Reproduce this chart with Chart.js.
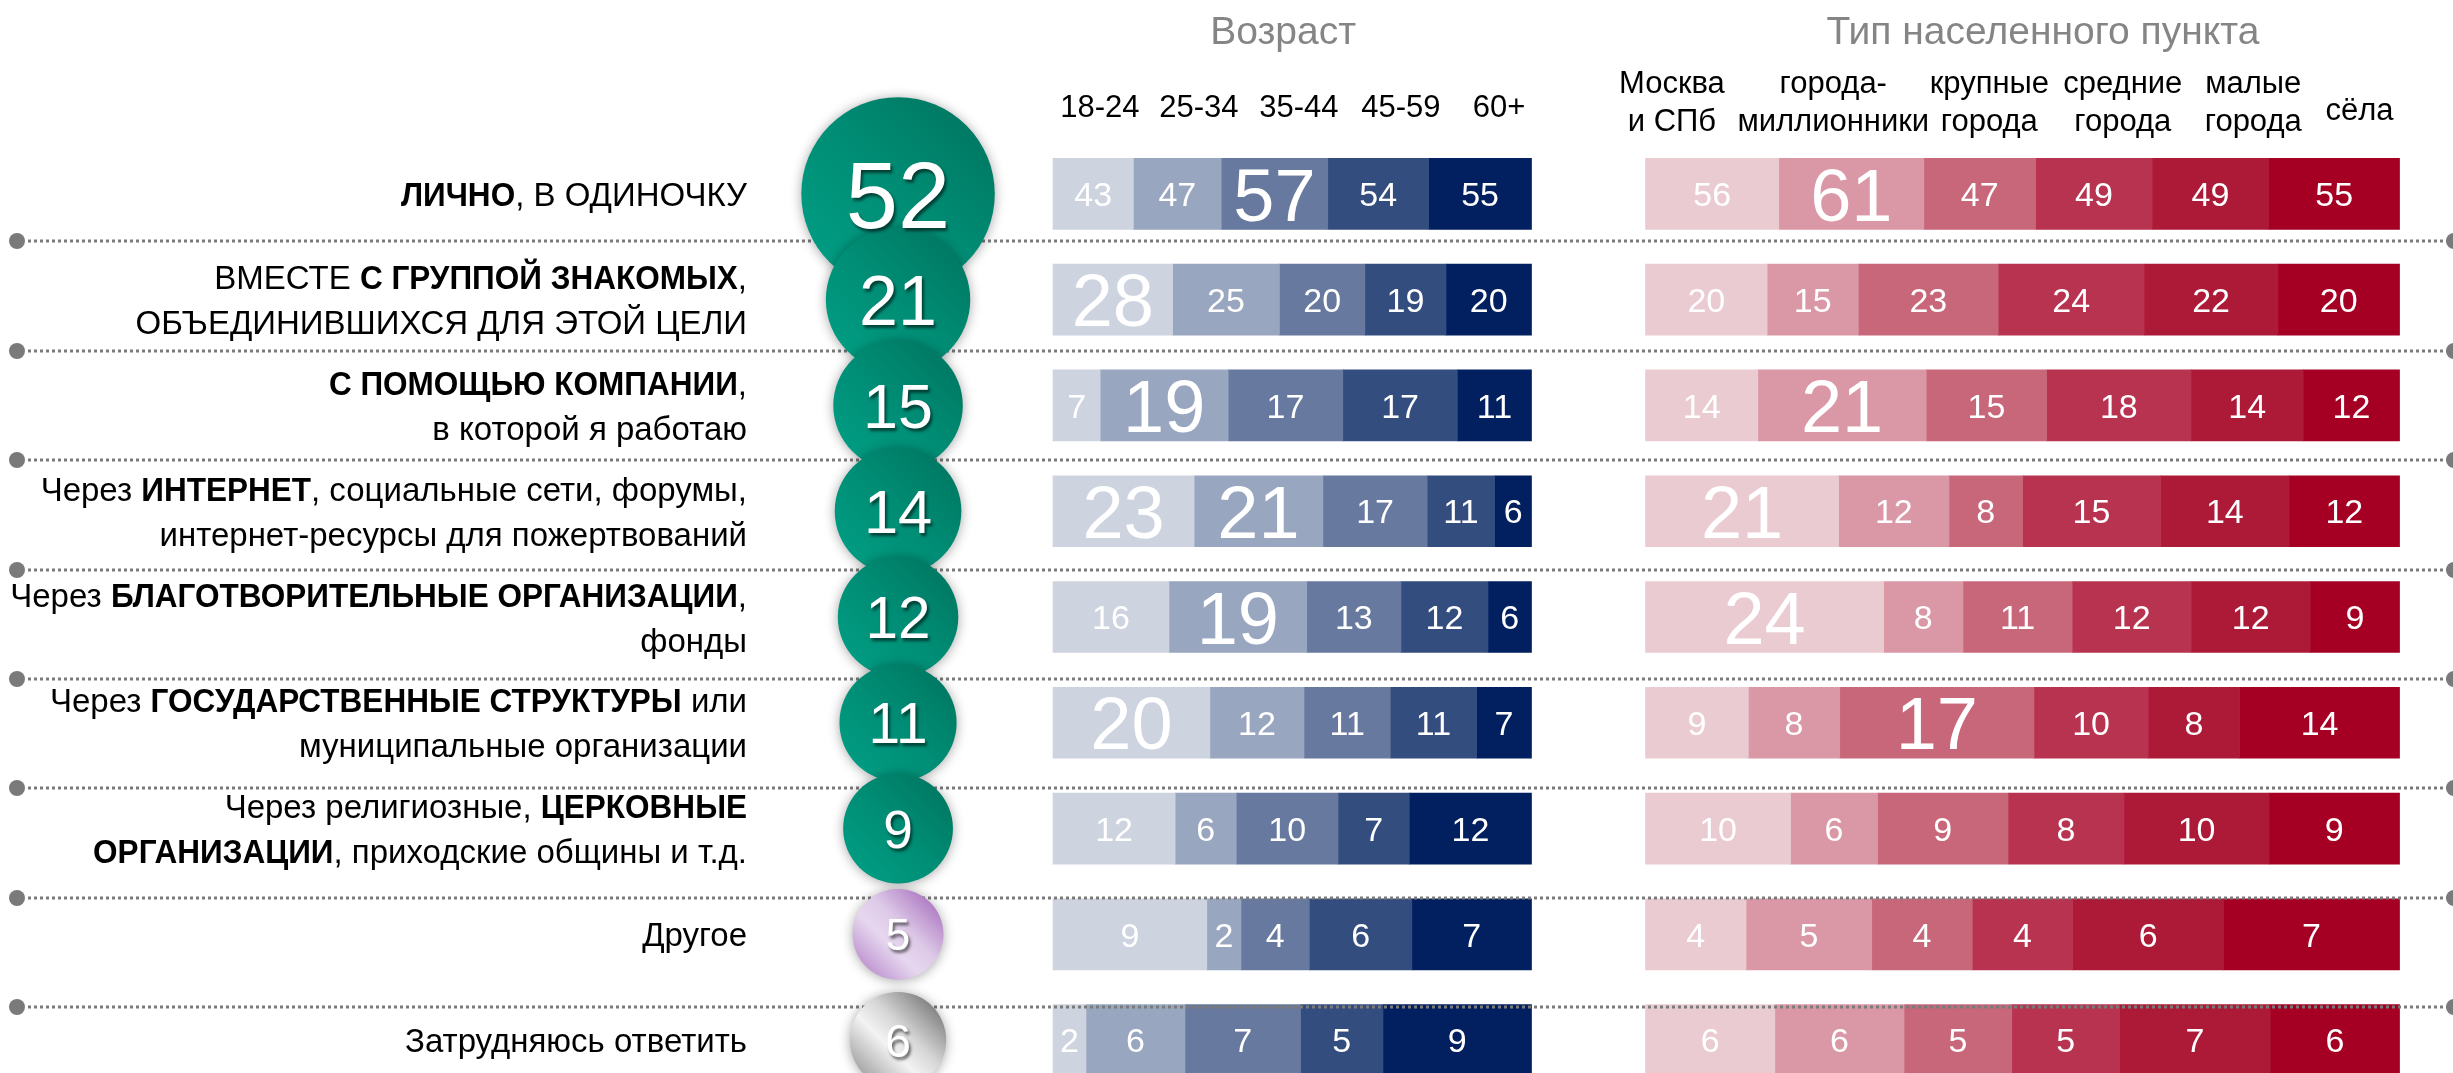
<!DOCTYPE html>
<html lang="ru">
<head>
<meta charset="utf-8">
<title>Как вы помогаете</title>
<script src="https://cdn.jsdelivr.net/npm/chart.js@4.4.1/dist/chart.umd.min.js"></script>
<style>
  html, body { margin: 0; padding: 0; background: #fff; overflow: hidden; }
  #wrap { position: relative; width: 2453px; height: 1073px; overflow: hidden; }
  canvas { display: block; }
</style>
</head>
<body>
<div id="wrap"><canvas id="chart" width="2453" height="1100"></canvas></div>
<script>
// *...* = жирный, | = перенос строки
const categories = [
    '*ЛИЧНО*, В ОДИНОЧКУ',
    'ВМЕСТЕ *С ГРУППОЙ ЗНАКОМЫХ*,|ОБЪЕДИНИВШИХСЯ ДЛЯ ЭТОЙ ЦЕЛИ',
    '*С ПОМОЩЬЮ КОМПАНИИ*,|в которой я работаю',
    'Через *ИНТЕРНЕТ*, социальные сети, форумы,|интернет-ресурсы для пожертвований',
    'Через *БЛАГОТВОРИТЕЛЬНЫЕ ОРГАНИЗАЦИИ*,|фонды',
    'Через *ГОСУДАРСТВЕННЫЕ СТРУКТУРЫ* или|муниципальные организации',
    'Через религиозные, *ЦЕРКОВНЫЕ*|*ОРГАНИЗАЦИИ*, приходские общины и т.д.',
    'Другое',
    'Затрудняюсь ответить'
]
const total = [52, 21, 15, 14, 12, 11, 9, 5, 6]

const ageGroups = ['18-24', '25-34', '35-44', '45-59', '60+']
const ageSeries = [
    [43, 28, 7, 23, 16, 20, 12, 9, 2],
    [47, 25, 19, 21, 19, 12, 6, 2, 6],
    [57, 20, 17, 17, 13, 11, 10, 4, 7],
    [54, 19, 17, 11, 12, 11, 7, 6, 5],
    [55, 20, 11, 6, 6, 7, 12, 7, 9]
]
// выделенные (крупные) значения: номера групп по строкам
const ageBig = [[2], [0], [1], [0, 1], [1], [0], [], [], []]

const townGroups = ['Москва|и СПб', 'города-|миллионники', 'крупные|города', 'средние|города', 'малые|города', 'сёла']
const townSeries = [
    [56, 20, 14, 21, 24, 9, 10, 4, 6],
    [61, 15, 21, 12, 8, 8, 6, 5, 6],
    [47, 23, 15, 8, 11, 17, 9, 4, 5],
    [49, 24, 18, 15, 12, 10, 8, 4, 5],
    [49, 22, 14, 14, 12, 8, 10, 6, 7],
    [55, 20, 12, 12, 9, 14, 9, 7, 6]
]
const townBig = [[1], [], [1], [0], [0], [2], [], [], []]

const ageColors = ['#cdd3df', '#99a6c0', '#67799f', '#344d7f', '#02205f']
const townColors = ['#ebcbd2', '#da98a6', '#c8667a', '#b8334f', '#ac1a37', '#a50024']

const FONT = '"Liberation Sans", Arial, sans-serif'
const chartLabels = categories.map(c => c.replace(/\*/g, '').replace('|', ' '))

// доли внутри строки (каждая полоса = 100%)
function shares(series) {
    const sums = categories.map((_, r) => series.reduce((s, col) => s + col[r], 0))
    return series.map(col => col.map((v, r) => v / sums[r] * 100))
}
const ageShares = shares(ageSeries)
const townShares = shares(townSeries)

function barSets(series, part, colors, big, axis, stack, groups) {
    return series.map((col, g) => ({
        type: 'bar',
        label: groups[g],
        data: part[g],
        values: col,
        big: big.map(list => list.includes(g)),
        xAxisID: axis,
        yAxisID: 'y',
        stack: stack,
        grouped: false,
        barThickness: 71,
        borderWidth: 0,
        backgroundColor: colors[g]
    }))
}

const bubbleStops = {
    main: [[0, '#009b81'], [0.5, '#008d75'], [1, '#007a64']],
    other: [[0, '#c29ad3'], [0.35, '#e6d7ef'], [0.6, '#ddc9e7'], [1, '#b281c6']],
    hard: [[0, '#a9a9a9'], [0.38, '#f3f3f3'], [0.62, '#d6d6d6'], [1, '#878787']]
}
const bubbleRadius = v => 27 * Math.pow(v, 0.323)

const bubbleSet = {
    type: 'bubble',
    data: total.map((v, i) => ({x: 0, y: chartLabels[i], r: bubbleRadius(v)})),
    values: total,
    xAxisID: 'xb',
    yAxisID: 'y',
    clip: false,
    borderWidth: 0,
    backgroundColor: (c) => {
        const fallback = '#008c74'
        if (c.type !== 'data') return fallback
        const {xb, y} = c.chart.scales
        if (!xb || !y) return fallback
        const cx = xb.getPixelForValue(0), cy = y.getPixelForValue(c.dataIndex), r = c.raw.r
        if (!isFinite(cx) || !isFinite(cy)) return fallback
        const g = c.chart.ctx.createLinearGradient(cx - r * 0.7, cy + r * 0.7, cx + r * 0.7, cy - r * 0.7)
        const key = c.dataIndex === 7 ? 'other' : c.dataIndex === 8 ? 'hard' : 'main'
        bubbleStops[key].forEach(([o, col]) => g.addColorStop(o, col))
        return g
    }
}

// строка с жирными кусками, выровненная по правому краю
function richLine(ctx, text, right, y, size) {
    const parts = text.split('*').map((t, i) => ({t, bold: i % 2 === 1}))
    let w = 0
    parts.forEach(p => {
        ctx.font = (p.bold ? 'bold ' : '') + size + 'px ' + FONT
        p.sx = p.bold ? 0.955 : 1
        p.w = ctx.measureText(p.t).width * p.sx
        w += p.w
    })
    let x = right - w
    ctx.textAlign = 'left'
    parts.forEach(p => {
        ctx.font = (p.bold ? 'bold ' : '') + size + 'px ' + FONT
        ctx.save()
        ctx.translate(x, y)
        ctx.scale(p.sx, 1)
        ctx.fillText(p.t, 0, 0)
        ctx.restore()
        x += p.w
    })
}

const decor = {
    id: 'decor',
    beforeDatasetDraw(chart, args) {
        if (args.meta.type !== 'bubble') return
        const ctx = chart.ctx, y = chart.scales.y
        // пунктирные разделители
        ctx.save()
        ctx.strokeStyle = '#7a7a7a'
        ctx.fillStyle = '#7a7a7a'
        ctx.lineWidth = 3
        for (let k = 0; k < categories.length - 1; k++) {
            const py = Math.round(y.getPixelForValue(0.449 + 1.034 * k))
            ctx.setLineDash([3, 3])
            ctx.beginPath()
            ctx.moveTo(28, py)
            ctx.lineTo(chart.width - 6, py)
            ctx.stroke()
            ctx.setLineDash([])
            ctx.beginPath(); ctx.arc(17, py, 8, 0, Math.PI * 2); ctx.fill()
            ctx.beginPath(); ctx.arc(chart.width + 1, py, 8, 0, Math.PI * 2); ctx.fill()
        }
        ctx.restore()
        ctx.save()
        ctx.shadowColor = 'rgba(0,0,0,0.35)'
        ctx.shadowBlur = 12
        ctx.shadowOffsetY = 1
    },
    afterDatasetDraw(chart, args) {
        if (args.meta.type === 'bubble') chart.ctx.restore()
    },
    afterDatasetsDraw(chart) {
        const ctx = chart.ctx
        const {xa, xt, y} = chart.scales
        ctx.save()
        ctx.textAlign = 'center'
        ctx.textBaseline = 'alphabetic'

        chart.data.datasets.forEach((ds, di) => {
            const meta = chart.getDatasetMeta(di)
            if (ds.type === 'bar') {
                meta.data.forEach((el, i) => {
                    const size = ds.big[i] ? 74 : 34
                    ctx.font = size + 'px ' + FONT
                    ctx.fillStyle = '#fff'
                    ctx.fillText(ds.values[i], (el.x + el.base) / 2, el.y + size * 0.36)
                })
            } else {
                meta.data.forEach((el, i) => {
                    const size = el.options.radius * 0.97
                    ctx.save()
                    ctx.shadowColor = 'rgba(0,0,0,0.55)'
                    ctx.shadowBlur = 3
                    ctx.shadowOffsetX = 2
                    ctx.shadowOffsetY = 3
                    ctx.font = size + 'px ' + FONT
                    ctx.fillStyle = '#fff'
                    ctx.fillText(ds.values[i], el.x, el.y + size * 0.36)
                    ctx.restore()
                })
            }
        })

        // подписи строк слева
        ctx.fillStyle = '#000'
        categories.forEach((c, i) => {
            const lines = c.split('|')
            const cy = y.getPixelForValue(i)
            lines.forEach((ln, k) => {
                const ly = cy + (k - (lines.length - 1) / 2) * 45 + 12
                richLine(ctx, ln, 747, ly, 33)
            })
        })

        // заголовки
        ctx.textAlign = 'center'
        ctx.fillStyle = '#858585'
        ctx.font = '39px ' + FONT
        ctx.fillText('Возраст', xa.getPixelForValue(48.1), 44)
        ctx.fillText('Тип населенного пункта', xt.getPixelForValue(52.7), 44)

        ctx.fillStyle = '#000'
        ctx.font = '31px ' + FONT
        const ageHead = [9.8, 30.5, 51.4, 72.7, 93.2]
        ageGroups.forEach((g, i) => ctx.fillText(g, xa.getPixelForValue(ageHead[i]), 117))
        const townHead = [3.5, 24.9, 45.6, 63.3, 80.6, 94.7]
        townGroups.forEach((g, i) => {
            const lines = g.split('|')
            const px = xt.getPixelForValue(townHead[i])
            if (lines.length === 1) ctx.fillText(lines[0], px, 120)
            else lines.forEach((ln, k) => ctx.fillText(ln, px, 93 + k * 38))
        })
        ctx.restore()
    }
}

const ctx = document.getElementById('chart').getContext('2d')

new Chart(ctx, {
    type: 'bar',
    data: {
        labels: chartLabels,
        datasets: [bubbleSet]
            .concat(barSets(ageSeries, ageShares, ageColors, ageBig, 'xa', 'age', ageGroups))
            .concat(barSets(townSeries, townShares, townColors, townBig, 'xt', 'town', townGroups))
    },
    options: {
        indexAxis: 'y',
        responsive: false,
        devicePixelRatio: 1,
        animation: false,
        events: [],
        layout: {
            autoPadding: false,
            padding: {top: 141, bottom: 7, left: 0, right: 0}
        },
        scales: {
            y: {type: 'category', display: false, offset: true, stacked: true},
            xa: {type: 'linear', axis: 'x', display: false, stacked: true, min: -220.06, max: 292.58},
            xt: {type: 'linear', axis: 'x', display: false, stacked: true, min: -218.24, max: 107.09},
            xb: {type: 'linear', axis: 'x', display: false, min: -0.3661, max: 0.6339}
        },
        plugins: {
            legend: {display: false},
            tooltip: {enabled: false}
        }
    },
    plugins: [decor]
});
</script>
</body>
</html>
